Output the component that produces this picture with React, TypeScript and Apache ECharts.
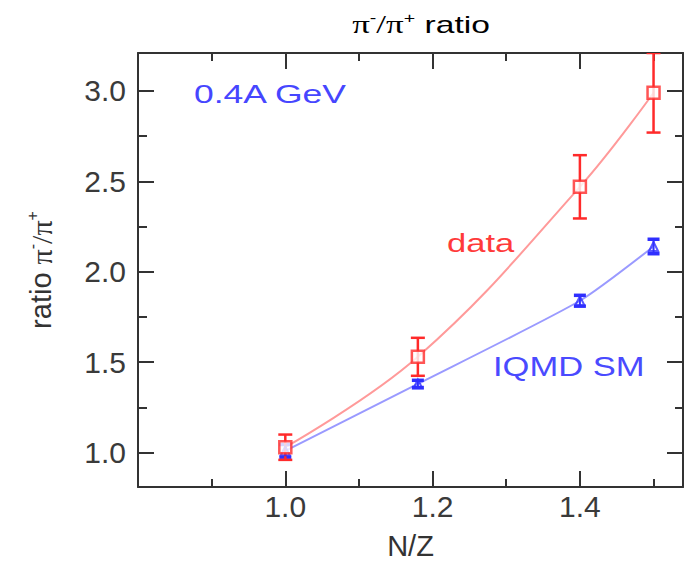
import React, { useEffect, useRef } from "react";
import * as echarts from "echarts";

// N/Z of the colliding systems
const nz = [1.0, 1.18, 1.4, 1.5];
// measured pi-/pi+ ratio and its uncertainty
const dataRatio = [1.03, 1.53, 2.47, 2.99];
const dataErr = [0.07, 0.105, 0.175, 0.22];
// IQMD soft-EoS (SM) prediction and its uncertainty
const iqmdRatio = [1.01, 1.38, 1.84, 2.14];
const iqmdErr = [0.035, 0.02, 0.03, 0.04];

// axis ticks
const xMajorTicks = [1.0, 1.2, 1.4];
const xMinorTicks = [0.9, 1.1, 1.3, 1.5];
const yMajorTicks = [1.0, 1.5, 2.0, 2.5, 3.0];
const yMinorTicks = [1.25, 1.75, 2.25, 2.75];

const X_MIN = 0.8;
const X_MAX = 1.54;
const Y_MIN = 0.81;
const Y_MAX = 3.21;

const FONT = "'Liberation Sans', Arial, sans-serif";
const AXIS_COLOR = "#333";
const RED = "#ff2a2a";
const RED_LINE = "#ff9a9a";
const BLUE = "#2f2fff";
const BLUE_LINE = "#9a9aff";

function tickAxis(
  kind: "x" | "y",
  position: string,
  ticks: number[],
  length: number,
  withLine: boolean,
  withLabels: boolean
) {
  const isX = kind === "x";
  return {
    type: "value",
    position,
    min: isX ? X_MIN : Y_MIN,
    max: isX ? X_MAX : Y_MAX,
    axisLine: {
      show: withLine,
      onZero: false,
      lineStyle: { color: AXIS_COLOR, width: 2 },
    },
    axisTick: {
      show: true,
      inside: true,
      length,
      customValues: ticks,
      lineStyle: { color: AXIS_COLOR, width: 2 },
    },
    axisLabel: {
      show: withLabels,
      customValues: ticks,
      formatter: (v: number) => v.toFixed(1),
      fontFamily: FONT,
      fontSize: 30,
      color: "#3a3a3a",
      margin: isX ? 4 : 12,
    },
    splitLine: { show: false },
  };
}

function errorBars(x: number[], y: number[], err: number[], color: string, capW: number, lw: number, capLw: number) {
  return {
    type: "custom",
    xAxisIndex: 0,
    yAxisIndex: 0,
    clip: true,
    z: 3,
    data: x.map((v, i) => [v, y[i] - err[i], y[i] + err[i]]),
    renderItem: (_p: any, api: any) => {
      const xv = api.value(0);
      const lo = api.coord([xv, api.value(1)]);
      const hi = api.coord([xv, api.value(2)]);
      const h = capW / 2;
      return {
        type: "group",
        children: [
          {
            type: "line",
            shape: { x1: lo[0], y1: lo[1], x2: hi[0], y2: hi[1] },
            style: { stroke: color, lineWidth: lw },
          },
          {
            type: "line",
            shape: { x1: lo[0] - h, y1: lo[1], x2: lo[0] + h, y2: lo[1] },
            style: { stroke: color, lineWidth: capLw },
          },
          {
            type: "line",
            shape: { x1: hi[0] - h, y1: hi[1], x2: hi[0] + h, y2: hi[1] },
            style: { stroke: color, lineWidth: capLw },
          },
        ],
      };
    },
  };
}

const titleRich = {
  n: { fontFamily: FONT, fontSize: 24, color: "#333", lineHeight: 28 },
  p: { fontFamily: "'Liberation Serif', serif", fontSize: 25, color: "#333", lineHeight: 28 },
  s: { fontFamily: FONT, fontSize: 14, color: "#333", verticalAlign: "top", lineHeight: 28 },
};

export default function App() {
  const ref = useRef<HTMLDivElement>(null);

  useEffect(() => {
    document.body.style.margin = "0";
    const chart = echarts.init(ref.current!, null, { renderer: "svg" });

    const xBottom = tickAxis("x", "bottom", xMajorTicks, 16, true, true) as any;
    xBottom.name = "N/Z";
    xBottom.nameLocation = "middle";
    xBottom.nameGap = 46;
    xBottom.nameTextStyle = { fontFamily: FONT, fontSize: 29, lineHeight: 26, color: "#333" };

    const yLeft = tickAxis("y", "left", yMajorTicks, 16, true, true) as any;
    yLeft.name = "{n|ratio }{p|π}{s|-}{p|/π}{s|+}";
    yLeft.nameLocation = "middle";
    yLeft.nameRotate = 90;
    yLeft.nameGap = 80;
    yLeft.nameTextStyle = {
      rich: {
        n: { fontFamily: FONT, fontSize: 29, color: "#333", lineHeight: 34 },
        p: { fontFamily: "'Liberation Serif', serif", fontSize: 30, color: "#333", lineHeight: 34 },
        s: { fontFamily: FONT, fontSize: 16, color: "#333", verticalAlign: "top", lineHeight: 34 },
      },
    };

    chart.setOption({
      animation: false,
      backgroundColor: "#fff",
      grid: { left: 138, right: 4, top: 53, bottom: 76, outerBoundsMode: "none", containLabel: false },
      xAxis: [
        xBottom,
        tickAxis("x", "bottom", xMinorTicks, 8, false, false),
        tickAxis("x", "top", xMajorTicks, 16, true, false),
        tickAxis("x", "top", xMinorTicks, 8, false, false),
      ],
      yAxis: [
        yLeft,
        tickAxis("y", "left", yMinorTicks, 9, false, false),
        tickAxis("y", "right", yMajorTicks, 16, true, false),
        tickAxis("y", "right", yMinorTicks, 8, false, false),
      ],
      graphic: [
        {
          type: "text",
          x: 421,
          y: 25,
          scaleX: 1.4,
          style: {
            text: "{p|π}{s|-}{p|/π}{s|+}{n| ratio}",
            rich: titleRich,
            textAlign: "center",
            textVerticalAlign: "middle",
          },
        },
        {
          type: "text",
          x: 194,
          y: 94,
          scaleX: 1.42,
          style: {
            text: "0.4A GeV",
            fontFamily: FONT,
            fontSize: 25,
            fill: "#4646ff",
            textVerticalAlign: "middle",
          },
        },
        {
          type: "text",
          x: 447,
          y: 243,
          scaleX: 1.33,
          style: {
            text: "data",
            fontFamily: FONT,
            fontSize: 26,
            fill: "#ff3a3a",
            textVerticalAlign: "middle",
          },
        },
        {
          type: "text",
          x: 493,
          y: 367,
          scaleX: 1.28,
          style: {
            text: "IQMD SM",
            fontFamily: FONT,
            fontSize: 27,
            fill: "#4a4aff",
            textVerticalAlign: "middle",
          },
        },
      ],
      series: [
        {
          type: "line",
          xAxisIndex: 0,
          yAxisIndex: 0,
          smooth: 0.4,
          showSymbol: false,
          data: nz.map((x, i) => [x, dataRatio[i]]),
          lineStyle: { color: RED_LINE, width: 2 },
          z: 2,
        },
        {
          type: "line",
          xAxisIndex: 0,
          yAxisIndex: 0,
          smooth: 0.2,
          showSymbol: false,
          data: nz.map((x, i) => [x, iqmdRatio[i]]),
          lineStyle: { color: BLUE_LINE, width: 2 },
          z: 2,
        },
        errorBars(nz, iqmdRatio, iqmdErr, BLUE, 12, 2, 3.5),
        errorBars(nz, dataRatio, dataErr, RED, 14, 2.5, 2.5),
        {
          type: "scatter",
          xAxisIndex: 0,
          yAxisIndex: 0,
          symbol: "triangle",
          symbolSize: 9,
          data: nz.map((x, i) => [x, iqmdRatio[i]]),
          itemStyle: { color: "rgba(255,255,255,0)", borderColor: BLUE, borderWidth: 2 },
          z: 4,
        },
        {
          type: "scatter",
          xAxisIndex: 0,
          yAxisIndex: 0,
          symbol: "rect",
          symbolSize: 12,
          data: nz.map((x, i) => [x, dataRatio[i]]),
          itemStyle: { color: "#fff", borderColor: RED, borderWidth: 2.5 },
          z: 5,
        },
      ],
    });

    return () => chart.dispose();
  }, []);

  return <div ref={ref} style={{ width: 687, height: 563 }} />;
}
